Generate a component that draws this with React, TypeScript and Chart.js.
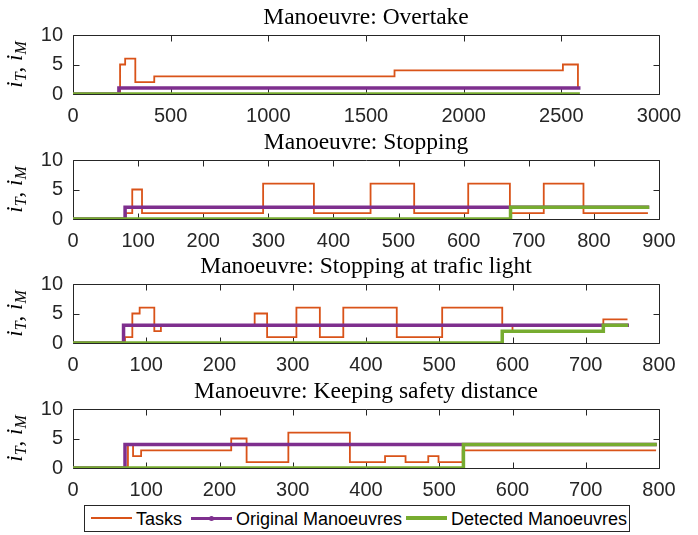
import React, { useEffect, useRef } from 'react';
import { Chart, registerables } from 'chart.js';

Chart.register(...registerables);

// ---------------- data ----------------
const titles = [
  'Manoeuvre: Overtake',
  'Manoeuvre: Stopping',
  'Manoeuvre: Stopping at trafic light',
  'Manoeuvre: Keeping safety distance',
];
const xMaxes = [3000, 900, 800, 800];
const xSteps = [500, 100, 100, 100];
const yMax = 10;
const yStep = 5;
const seriesNames = ['Tasks', 'Original Manoeuvres', 'Detected Manoeuvres'];

// each series: change points (x) and the value holding from that x onward (y)
const overtakeTasksX = [0, 241, 267, 319, 416, 1646, 2508, 2585];
const overtakeTasksY = [0, 5, 6, 2, 3, 4, 5, 1];
const overtakeOrigX = [0, 235, 2598];
const overtakeOrigY = [0, 1, 1];
const overtakeDetX = [0, 2595];
const overtakeDetY = [0, 0];

const stoppingTasksX = [0, 81, 91, 106, 292, 370, 457, 524, 607, 671, 723, 784, 883];
const stoppingTasksY = [0, 1, 5, 1, 6, 1, 6, 1, 6, 1, 6, 1, 1];
const stoppingOrigX = [0, 80, 885];
const stoppingOrigY = [0, 2, 2];
const stoppingDetX = [0, 672, 885];
const stoppingDetY = [0, 2, 2];

const lightTasksX = [0, 71, 81, 91, 111, 120, 248, 265, 305, 337, 369, 442, 504, 586, 600, 724, 757];
const lightTasksY = [0, 1, 5, 6, 2, 3, 5, 1, 6, 1, 6, 1, 6, 3, 2, 4, 4];
const lightOrigX = [0, 69, 759];
const lightOrigY = [0, 3, 3];
const lightDetX = [0, 586, 724, 758];
const lightDetY = [0, 2, 3, 3];

const safetyTasksX = [0, 75, 82, 93, 216, 237, 294, 378, 426, 454, 485, 499, 532, 796];
const safetyTasksY = [0, 4, 2, 3, 5, 1, 6, 1, 2, 1, 2, 1, 3, 3];
const safetyOrigX = [0, 71, 797];
const safetyOrigY = [0, 4, 4];
const safetyDetX = [0, 533, 797];
const safetyDetY = [0, 4, 4];

const panelSeries = [
  [[overtakeTasksX, overtakeTasksY], [overtakeOrigX, overtakeOrigY], [overtakeDetX, overtakeDetY]],
  [[stoppingTasksX, stoppingTasksY], [stoppingOrigX, stoppingOrigY], [stoppingDetX, stoppingDetY]],
  [[lightTasksX, lightTasksY], [lightOrigX, lightOrigY], [lightDetX, lightDetY]],
  [[safetyTasksX, safetyTasksY], [safetyOrigX, safetyOrigY], [safetyDetX, safetyDetY]],
];

// ---------------- styles ----------------
const colors = ['#D95319', '#7E2F8E', '#77AC30'];
const widths = [1.8, 3.5, 3.5];
const SERIF = '"Liberation Serif", "Times New Roman", serif';
const SANS = '"Liberation Sans", Arial, Helvetica, sans-serif';
const AXIS_COLOR = '#262626';
const panelTops = [0, 125, 249, 374];
const CANVAS_W = 698;
const CANVAS_H = 124;

const axesBox = {
  id: 'axesBox',
  beforeDatasetsDraw(chart: any) {
    const { ctx, chartArea: a, scales } = chart;
    const L = Math.round(a.left) + 0.5;
    const R = Math.round(a.right) + 0.5;
    const T = Math.round(a.top) + 0.5;
    const B = Math.round(a.bottom) + 0.5;
    const tl = 6;
    ctx.save();
    ctx.strokeStyle = AXIS_COLOR;
    ctx.lineWidth = 1;
    ctx.beginPath();
    ctx.rect(L, T, R - L, B - T);
    scales.x.ticks.forEach((t: any) => {
      const px = Math.round(scales.x.getPixelForValue(t.value)) + 0.5;
      ctx.moveTo(px, B);
      ctx.lineTo(px, B - tl);
      ctx.moveTo(px, T);
      ctx.lineTo(px, T + tl);
    });
    scales.y.ticks.forEach((t: any) => {
      const py = Math.round(scales.y.getPixelForValue(t.value)) + 0.5;
      ctx.moveTo(L, py);
      ctx.lineTo(L + tl, py);
      ctx.moveTo(R, py);
      ctx.lineTo(R - tl, py);
    });
    ctx.stroke();
    ctx.restore();
  },
};

const yLabel = {
  id: 'yLabel',
  afterDraw(chart: any) {
    const { ctx, chartArea: a } = chart;
    const parts = [
      { t: 'i', f: `italic 23px ${SERIF}`, dy: 0 },
      { t: 'T', f: `italic 16px ${SERIF}`, dy: 4 },
      { t: ', ', f: `23px ${SERIF}`, dy: 0 },
      { t: 'i', f: `italic 23px ${SERIF}`, dy: 0 },
      { t: 'M', f: `italic 16px ${SERIF}`, dy: 4 },
    ];
    ctx.save();
    let total = 0;
    const ws = parts.map((p) => {
      ctx.font = p.f;
      const w = ctx.measureText(p.t).width;
      total += w;
      return w;
    });
    ctx.translate(22, (a.top + a.bottom) / 2);
    ctx.rotate(-Math.PI / 2);
    ctx.fillStyle = '#000';
    ctx.textBaseline = 'alphabetic';
    ctx.textAlign = 'left';
    let u = -total / 2;
    parts.forEach((p, i) => {
      ctx.font = p.f;
      ctx.fillText(p.t, u, p.dy);
      u += ws[i];
    });
    ctx.restore();
  },
};

function Panel({ idx }: { idx: number }) {
  const ref = useRef<HTMLCanvasElement>(null);
  useEffect(() => {
    const datasets = panelSeries[idx].map(([xs, ys], s) => ({
      label: seriesNames[s],
      data: xs.map((x: number, i: number) => ({ x, y: ys[i] })),
      borderColor: colors[s],
      backgroundColor: colors[s],
      borderWidth: widths[s],
      pointRadius: 0,
      stepped: 'before' as const,
      fill: false,
      order: 3 - s,
      borderJoinStyle: 'miter' as const,
    }));
    const chart = new Chart(ref.current as HTMLCanvasElement, {
      type: 'line',
      data: { datasets },
      options: {
        animation: false,
        responsive: false,
        maintainAspectRatio: false,
        layout: { padding: { left: 0, right: 39, top: 0, bottom: 0 } },
        plugins: {
          legend: { display: false },
          tooltip: { enabled: false },
          title: {
            display: true,
            text: titles[idx],
            fullSize: false,
            color: '#000',
            font: { family: SERIF, size: 23.5, weight: 'normal', lineHeight: 1.2 },
            padding: { top: 4, bottom: 2.8 },
          },
        },
        scales: {
          x: {
            type: 'linear',
            min: 0,
            max: xMaxes[idx],
            grid: { display: false, drawTicks: false },
            border: { display: false },
            ticks: {
              stepSize: xSteps[idx],
              color: AXIS_COLOR,
              font: { family: SANS, size: 20 },
              padding: 10,
              maxRotation: 0,
              autoSkip: false,
              callback: (v: any) => String(v),
            },
            afterFit: (s: any) => {
              s.height = 30;
            },
          },
          y: {
            type: 'linear',
            min: 0,
            max: yMax,
            grid: { display: false, drawTicks: false },
            border: { display: false },
            ticks: {
              stepSize: yStep,
              color: AXIS_COLOR,
              font: { family: SANS, size: 20 },
              padding: 10,
              callback: (v: any) => String(v),
            },
            afterFit: (s: any) => {
              s.width = 73;
            },
          },
        },
      },
      plugins: [axesBox, yLabel],
    });
    return () => chart.destroy();
  }, [idx]);
  return (
    <div style={{ position: 'absolute', left: 0, top: panelTops[idx], width: CANVAS_W, height: CANVAS_H }}>
      <canvas ref={ref} width={CANVAS_W} height={CANVAS_H} style={{ display: 'block' }} />
    </div>
  );
}

function LegendSample({ color, w, left, dot }: { color: string; w: number; left: number; dot?: boolean }) {
  return (
    <div style={{ position: 'absolute', left, top: 13 - w / 2 - 1, width: 41, height: w, background: color }}>
      {dot ? (
        <div
          style={{
            position: 'absolute',
            left: 18,
            top: w / 2 - 2.5,
            width: 5,
            height: 5,
            borderRadius: 3,
            background: color,
          }}
        />
      ) : null}
    </div>
  );
}

export default function App() {
  const textStyle: React.CSSProperties = {
    position: 'absolute',
    top: 1,
    fontFamily: SANS,
    fontSize: 18,
    lineHeight: '24px',
    color: '#000',
    whiteSpace: 'nowrap',
  };
  return (
    <div style={{ position: 'absolute', left: 0, top: 0, width: 698, height: 535, background: '#fff' }}>
      {[0, 1, 2, 3].map((i) => (
        <Panel key={i} idx={i} />
      ))}
      <div
        style={{
          position: 'absolute',
          left: 84,
          top: 505,
          width: 546,
          height: 27,
          border: `1px solid ${AXIS_COLOR}`,
          boxSizing: 'border-box',
          background: '#fff',
        }}
      >
        <LegendSample color={colors[0]} w={2} left={6} />
        <span style={{ ...textStyle, left: 51 }}>{seriesNames[0]}</span>
        <LegendSample color={colors[1]} w={3} left={106} dot />
        <span style={{ ...textStyle, left: 151 }}>{seriesNames[1]}</span>
        <LegendSample color={colors[2]} w={4} left={321} />
        <span style={{ ...textStyle, left: 366 }}>{seriesNames[2]}</span>
      </div>
    </div>
  );
}
